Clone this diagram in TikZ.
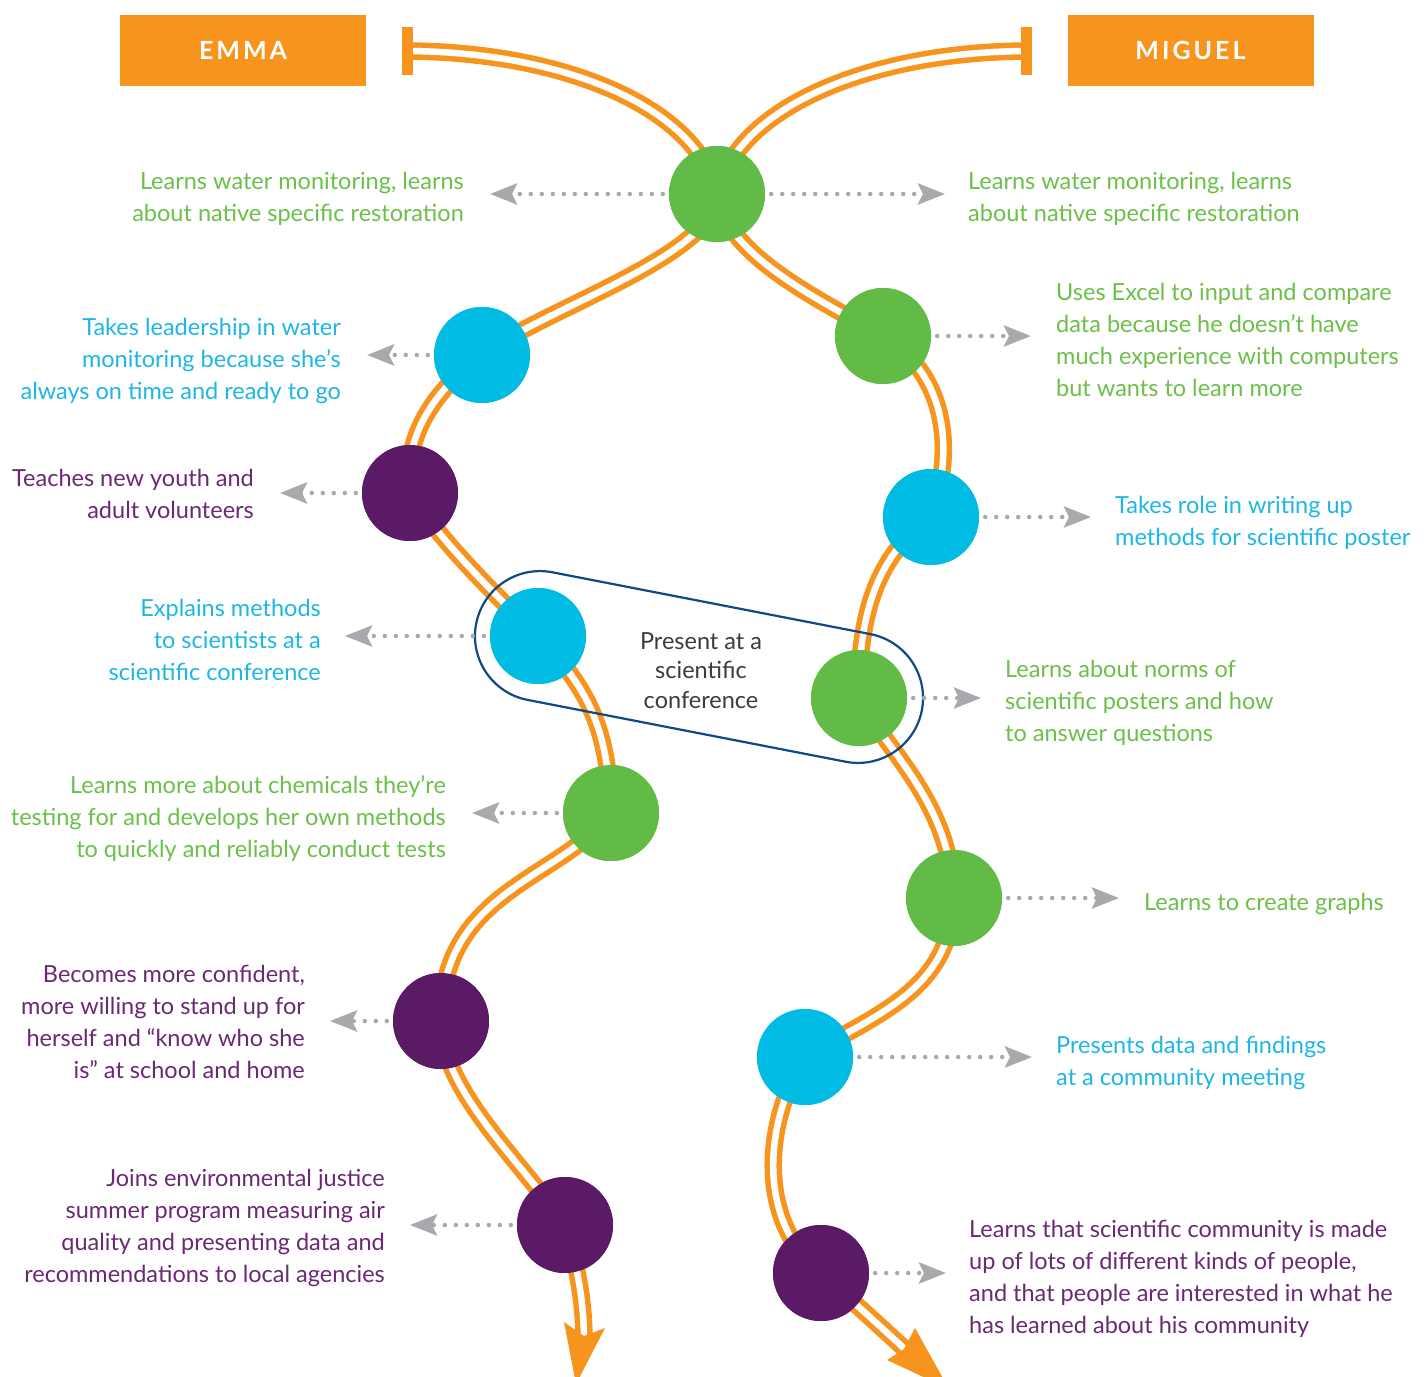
\documentclass[tikz,border=0pt]{standalone}
\usepackage{fontspec}
\setmainfont{Lato}
\usetikzlibrary{arrows.meta,shapes.misc}
\definecolor{roadorange}{HTML}{F7941E}
\definecolor{cgreen}{HTML}{62BB47}
\definecolor{cblue}{HTML}{00BCE4}
\definecolor{cpurple}{HTML}{5B1A66}
\definecolor{tgreen}{HTML}{6CC04A}
\definecolor{tblue}{HTML}{1EB7E5}
\definecolor{tpurple}{HTML}{6A2A73}
\definecolor{dotgray}{HTML}{A7A9AC}
\definecolor{pillblue}{HTML}{0D4A86}
\definecolor{ctext}{HTML}{3C3C3C}
\begin{document}
\begin{tikzpicture}[x=1pt,y=-1pt,
  road/.style={draw=roadorange, line width=5.5pt, double=white, double distance=6.5pt, line join=round},
  dot/.style={circle, minimum size=96pt, inner sep=0pt},
  gdot/.style={dot, fill=cgreen},
  bdot/.style={dot, fill=cblue},
  pdot/.style={dot, fill=cpurple},
  dotarr/.style={draw=dotgray, line width=4.5pt, line cap=round, dash pattern=on 0pt off 11pt, dash phase=5pt,
    -{Stealth[length=27pt,width=21pt,inset=5pt]}},
  lab/.style={inner sep=0pt, font=\fontsize{23.5}{32}\selectfont},
  lr/.style={lab, anchor=north east, align=right},
  ll/.style={lab, anchor=north west, align=left},
  hdr/.style={fill=roadorange, minimum width=246pt, minimum height=71pt, inner sep=0pt, text=white,
    font=\fontsize{25}{25}\selectfont\bfseries\addfontfeature{LetterSpace=12}},
  barend/.style={fill=roadorange, minimum width=11pt, minimum height=48pt, inner sep=0pt}
]
\useasboundingbox (0,0) rectangle (1424,1376);
\fill[white] (0,0) rectangle (1424,1376);

% headers
\node[hdr] (emma) at (243,50.5) {EMMA};
\node[hdr] (miguel) at (1190.5,50.5) {MIGUEL};

% circles (positions)
\node[gdot] (t)  at (717,194) {};
\node[bdot] (b1) at (482,355) {};
\node[pdot] (p1) at (410,493) {};
\node[bdot] (b2) at (538,636) {};
\node[gdot] (g1) at (611,813) {};
\node[pdot] (p2) at (441,1021) {};
\node[pdot] (p3) at (565,1225) {};
\node[gdot] (g2) at (883,336) {};
\node[bdot] (b3) at (931,517) {};
\node[gdot] (g3) at (859,698) {};
\node[gdot] (g4) at (954,898) {};
\node[bdot] (b4) at (805,1057) {};
\node[pdot] (p4) at (821,1273) {};

% bar ends
\coordinate (ebc) at (407.5,51);
\coordinate (mbc) at (1026.5,51);

% arrow head coordinates
\coordinate (eend) at (584,1341);
\coordinate (en) at (584,1336);
\coordinate (el) at (564,1322);
\coordinate (er) at (605,1328);
\coordinate (etip) at (576,1384);
\coordinate (mend) at (909,1353);
\coordinate (mn) at (904,1349);
\coordinate (ml) at (887,1360);
\coordinate (mr) at (915,1328);
\coordinate (mtip) at (949,1389);

% roads
\draw[road] (ebc) .. controls (565,52) and (698,108) .. (t.center)
  .. controls (717,255) and (545,308) .. (b1.center)
  .. controls (435,390) and (403,435) .. (p1.center)
  .. controls (440,540) and (490,590) .. (b2.center)
  .. controls (590,690) and (608,730) .. (g1.center)
  .. controls (560,880) and (441,890) .. (p2.center)
  .. controls (441,1090) and (520,1160) .. (p3.center)
  .. controls (577,1265) and (584,1300) .. (eend);
\draw[road] (mbc) .. controls (869,52) and (736,108) .. (t.center)
  .. controls (725,255) and (820,300) .. (g2.center)
  .. controls (940,370) and (958,440) .. (b3.center)
  .. controls (885,550) and (858,600) .. (g3.center)
  .. controls (885,750) and (950,800) .. (g4.center)
  .. controls (950,990) and (880,1012) .. (b4.center)
  .. controls (765,1120) and (755,1220) .. (p4.center)
  .. controls (850,1299) and (880,1326) .. (mend);
\fill[roadorange] (en) -- (el) -- (etip) -- (er) -- cycle;
\fill[roadorange] (mn) -- (ml) -- (mtip) -- (mr) -- cycle;
\node[barend] (eb) at (ebc) {};
\node[barend] (mb) at (mbc) {};

% pill
\node[draw=pillblue, line width=2.2pt, rounded rectangle, minimum width=454pt, minimum height=130pt,
  inner sep=0pt, rotate=-11] (pill) at (699,667) {};
\node[inner sep=0pt, anchor=north, align=center, text=ctext, font=\fontsize{23.5}{29.5}\selectfont]
  (pilltext) at (701,632) {Present at a\\scientific\\conference};

% circles drawn on top
\foreach \n/\s in {t/gdot,b1/bdot,p1/pdot,b2/bdot,g1/gdot,p2/pdot,p3/pdot,g2/gdot,b3/bdot,g3/gdot,g4/gdot,b4/bdot,p4/pdot}
  \node[\s] at (\n.center) {};

% dotted arrow ends
\coordinate (at1) at (490,194);
\coordinate (at2) at (945,194);
\coordinate (ab1) at (367,355);
\coordinate (ap1) at (280,493);
\coordinate (ab2) at (345,636);
\coordinate (ag1) at (472,813);
\coordinate (ap2) at (330,1021);
\coordinate (ap3) at (410,1225);
\coordinate (ag2) at (1031,336);
\coordinate (ab3) at (1091,517);
\coordinate (ag3) at (981,698);
\coordinate (ag4) at (1119,898);
\coordinate (ab4) at (1032,1057);
\coordinate (ap4) at (946,1273);

\draw[dotarr] (t.west) -- (at1);
\draw[dotarr] (t.east) -- (at2);
\draw[dotarr] (b1.west) -- (ab1);
\draw[dotarr] (p1.west) -- (ap1);
\draw[dotarr] (b2.west) -- (ab2);
\draw[dotarr] (g1.west) -- (ag1);
\draw[dotarr] (p2.west) -- (ap2);
\draw[dotarr] (p3.west) -- (ap3);
\draw[dotarr] (g2.east) -- (ag2);
\draw[dotarr] (b3.east) -- (ab3);
\draw[dotarr] (g3.east) -- (ag3);
\draw[dotarr] (g4.east) -- (ag4);
\draw[dotarr] (b4.east) -- (ab4);
\draw[dotarr] (p4.east) -- (ap4);

% Emma texts
\node[lr, text=tgreen] (e1) at (464,171.5) {Learns water monitoring, learns\\about native specific restoration};
\node[lr, text=tblue] (e2) at (341,317.5) {Takes leadership in water\\monitoring because she’s\\always on time and ready to go};
\node[lr, text=tpurple] (e3) at (254,468.5) {Teaches new youth and\\adult volunteers};
\node[lr, text=tblue] (e4) at (321,598.5) {Explains methods\\to scientists at a\\scientific conference};
\node[lr, text=tgreen] (e5) at (446,775.5) {Learns more about chemicals they’re\\testing for and develops her own methods\\to quickly and reliably conduct tests};
\node[lr, text=tpurple] (e6) at (305,964.5) {Becomes more confident,\\more willing to stand up for\\herself and “know who she\\is” at school and home};
\node[lr, text=tpurple] (e7) at (385,1168.5) {Joins environmental justice\\summer program measuring air\\quality and presenting data and\\recommendations to local agencies};

% Miguel texts
\node[ll, text=tgreen] (m1) at (968,171.5) {Learns water monitoring, learns\\about native specific restoration};
\node[ll, text=tgreen] (m2) at (1056,282.5) {Uses Excel to input and compare\\data because he doesn’t have\\much experience with computers\\but wants to learn more};
\node[ll, text=tblue] (m3) at (1115,495.5) {Takes role in writing up\\methods for scientific poster};
\node[ll, text=tgreen] (m4) at (1005,659.5) {Learns about norms of\\scientific posters and how\\to answer questions};
\node[ll, text=tgreen] (m5) at (1144,892.5) {Learns to create graphs};
\node[ll, text=tblue] (m6) at (1056,1035.5) {Presents data and findings\\at a community meeting};
\node[ll, text=tpurple] (m7) at (969,1219.5) {Learns that scientific community is made\\up of lots of different kinds of people,\\and that people are interested in what he\\has learned about his community};
\end{tikzpicture}
\end{document}
